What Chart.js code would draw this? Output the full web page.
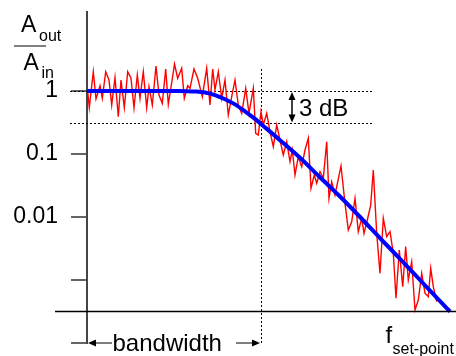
<!DOCTYPE html>
<html>
<head>
<meta charset="utf-8">
<script src="https://cdn.jsdelivr.net/npm/chart.js@4.4.0/dist/chart.umd.min.js"></script>
<style>
body { margin: 0; background: #fff; }
</style>
</head>
<body>
<canvas id="bode" width="456" height="356"></canvas>
<script>
// frequency position (0 = y axis) and gain as log10(Aout/Ain)
const noiseFreq = [0, 2.3, 6.3, 9, 13, 15.3, 18.7, 22, 24.7, 28, 31.3, 34, 37.3, 40.7, 44, 47, 50.3, 53, 56.3, 59.7,
    62, 65.3, 69, 72, 75.3, 78.7, 81.3, 84.5, 87.5, 90.7, 94.7, 97.3, 100.7, 103, 107, 110.7, 115.3, 119.7, 123, 125.7,
    128, 131.3, 134.7, 138, 141.3, 144.7, 148, 151.3, 154.7, 158.7, 162, 166.3, 168.7, 171.3, 174, 176.3, 179.7, 183, 186.3, 189.7,
    193, 196.3, 199.7, 203, 205.3, 208, 211.3, 214.7, 218, 221.3, 224, 227.3, 229.7, 233, 236.3, 239.7, 242, 244.7, 248, 254,
    258, 261.3, 264.7, 268, 271.3, 274.7, 277, 280.3, 283.7, 286.3, 289.7, 293, 296.3, 299.7, 303, 306.3, 309, 312.3, 315.7, 318.7,
    321.3, 324.7, 328, 331.3, 334.7, 338, 341.3, 343.7, 346.3, 349.7];
const noiseGain = [0.095, -0.265, 0.306, -0.127, 0.084, -0.116, 0.306, 0.175, -0.222, 0.211, -0.408, 0.175, -0.265, 0.306, 0.202, -0.265, 0.254, -0.116, 0.306, -0.265,
    0.068, -0.222, 0.397, -0.063, -0.195, 0.349, -0.211, 0.111, 0.429, 0.202, 0.36, -0.116, 0.084, 0.043, 0.349, 0.202, -0.09, 0.36, -0.222, 0.349,
    0.016, 0.306, -0.116, 0.175, -0.381, -0.09, 0.175, -0.222, -0.354, 0.043, -0.354, 0.043, -0.671, -0.698, -0.329, -0.54, -0.354, -0.646, -0.884, -0.54,
    -0.778, -1.016, -0.805, -1.122, -0.937, -1.333, -1.043, -1.202, -0.937, -0.751, -1.544, -1.333, -1.465, -1.281, -1.386, -0.805, -1.703, -1.44, -1.651, -1.19,
    -1.783, -2.206, -2.075, -1.703, -2.233, -2.021, -2.259, -2.048, -1.81, -1.254, -2.259, -2.894, -2.021, -2.313, -2.233, -2.576, -3.29, -2.524, -3.106, -2.471,
    -3.0, -2.71, -3.476, -3.317, -2.894, -3.211, -3.265, -2.814, -3.106, -3.344];
const fitFreq = [0, 90, 100, 108, 118, 128, 138, 148, 158, 168, 176, 193, 213, 233, 253, 273, 293, 313, 333, 353, 363];
const fitGain = [0, 0, -0.002, -0.008, -0.025, -0.065, -0.13, -0.212, -0.322, -0.443, -0.55, -0.78, -1.06, -1.37, -1.675, -2.0, -2.335, -2.665, -3.0, -3.335, -3.5];

const tickValues = [0, -1, -2, -3, -4];
const tickLabels = ['1', '0.1', '0.01', '', ''];

const cutoffFreq = 174;   // bandwidth edge
const level3dB = -0.5;
const baseGain = -3.5;    // where the frequency axis sits
const arrowFreq = 205;
const dottedFrom = -17;
const dottedTo = 285;

const fontFamily = "'Liberation Sans', Arial, sans-serif";
Chart.defaults.font.family = fontFamily;

function toPoints(xs, ys) {
    return xs.map((x, i) => ({x: x, y: ys[i]}));
}

function arrowHead(c, x, y, dx, dy) {
    const len = 8, half = 3.5;
    c.beginPath();
    c.moveTo(x, y);
    c.lineTo(x - dx * len - dy * half, y - dy * len + dx * half);
    c.lineTo(x - dx * len + dy * half, y - dy * len - dx * half);
    c.closePath();
    c.fill();
}

const annotations = {
    id: 'annotations',
    beforeDatasetsDraw(chart) {
        const c = chart.ctx;
        const xs = chart.scales.x, ys = chart.scales.y;
        c.save();
        c.strokeStyle = '#000';
        c.lineWidth = 1;
        c.setLineDash([2, 2]);
        const x0 = xs.getPixelForValue(dottedFrom), x1 = xs.getPixelForValue(dottedTo);
        for (const v of [0, level3dB]) {
            const py = Math.round(ys.getPixelForValue(v)) + 0.5;
            c.beginPath();
            c.moveTo(x0, py);
            c.lineTo(x1, py);
            c.stroke();
        }
        const px = Math.round(xs.getPixelForValue(cutoffFreq)) + 0.5;
        c.beginPath();
        c.moveTo(px, ys.getPixelForValue(0.35));
        c.lineTo(px, ys.getPixelForValue(-4));
        c.stroke();
        c.restore();
    },
    afterDraw(chart) {
        const c = chart.ctx;
        const xs = chart.scales.x, ys = chart.scales.y;
        c.save();
        c.fillStyle = '#000';
        c.strokeStyle = '#000';

        // frequency axis
        const by = ys.getPixelForValue(baseGain);
        c.lineWidth = 1.5;
        c.beginPath();
        c.moveTo(55, by);
        c.lineTo(chart.width, by);
        c.stroke();

        // 3 dB arrow
        const ax = xs.getPixelForValue(arrowFreq);
        const ay0 = ys.getPixelForValue(0) + 1, ay1 = ys.getPixelForValue(level3dB);
        c.lineWidth = 1.5;
        c.beginPath();
        c.moveTo(ax, ay0 + 4);
        c.lineTo(ax, ay1 - 4);
        c.stroke();
        arrowHead(c, ax, ay0, 0, -1);
        arrowHead(c, ax, ay1, 0, 1);
        c.font = '24px ' + fontFamily;
        c.textBaseline = 'alphabetic';
        c.textAlign = 'left';
        c.fillText('3 dB', ax + 7, 116);

        // bandwidth arrow
        const bx0 = xs.getPixelForValue(0) + 1, bx1 = xs.getPixelForValue(cutoffFreq) - 1;
        const bwy = ys.getPixelForValue(-4);
        c.lineWidth = 1;
        c.beginPath();
        c.moveTo(bx0 + 4, bwy);
        c.lineTo(112, bwy);
        c.moveTo(236, bwy);
        c.lineTo(bx1 - 4, bwy);
        c.stroke();
        arrowHead(c, bx0, bwy, -1, 0);
        arrowHead(c, bx1, bwy, 1, 0);
        c.fillText('bandwidth', 112.5, 351);

        // f set-point
        c.fillText('f', 385.5, 343);
        c.font = '16px ' + fontFamily;
        c.fillText('set-point', 392.5, 353.5);

        // Aout / Ain
        c.font = '23px ' + fontFamily;
        c.fillText('A', 21, 32);
        c.fillText('A', 23.5, 70);
        c.font = '16px ' + fontFamily;
        c.fillText('out', 39, 40.5);
        c.fillText('in', 41.5, 78);
        c.strokeStyle = '#555';
        c.lineWidth = 1.5;
        c.beginPath();
        c.moveTo(14, 46);
        c.lineTo(46, 46);
        c.stroke();
        c.restore();
    }
};

const ctx = document.getElementById('bode').getContext('2d');
const bode = new Chart(ctx, {
    type: 'line',
    data: {
        datasets: [{
            label: 'response',
            data: toPoints(fitFreq, fitGain),
            borderColor: '#0000ff',
            borderWidth: 4,
            pointRadius: 0,
            cubicInterpolationMode: 'monotone'
        }, {
            label: 'measured',
            data: toPoints(noiseFreq, noiseGain),
            borderColor: '#ff0000',
            borderWidth: 1.4,
            pointRadius: 0,
            tension: 0
        }]
    },
    options: {
        responsive: false,
        animation: false,
        layout: {padding: {top: 12, bottom: 13, left: 0, right: 0}},
        plugins: {legend: {display: false}, tooltip: {enabled: false}},
        scales: {
            x: {
                type: 'linear',
                display: false,
                min: 0,
                max: 369
            },
            y: {
                type: 'linear',
                min: -4,
                max: 1.254,
                afterBuildTicks: (scale) => {
                    scale.ticks = tickValues.map(v => ({value: v}));
                },
                afterFit: (scale) => {
                    scale.width = 87;
                    scale.paddingTop = 0;
                    scale.paddingBottom = 0;
                },
                border: {color: '#444', width: 2},
                grid: {
                    drawOnChartArea: false,
                    drawTicks: true,
                    tickLength: 16,
                    color: '#666',
                    lineWidth: 2
                },
                ticks: {
                    autoSkip: false,
                    maxRotation: 0,
                    padding: 13,
                    color: '#000',
                    font: {size: 23},
                    callback: (value, index) => tickLabels[index]
                }
            }
        }
    },
    plugins: [annotations]
});
</script>
</body>
</html>
